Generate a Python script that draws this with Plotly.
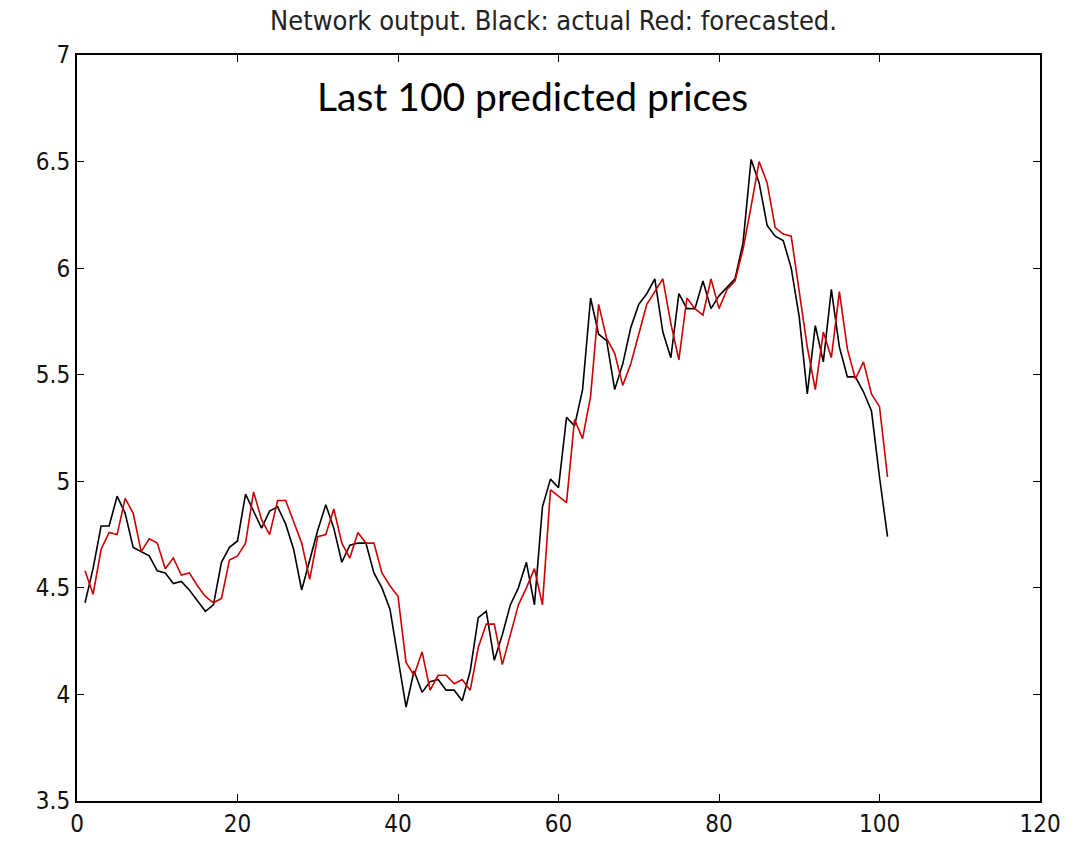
import plotly.graph_objects as go

# Sample index for the last 100 predictions
steps = list(range(1, 102))

# Actual prices (black)
actual = [
    4.43, 4.59, 4.79, 4.79, 4.93, 4.85, 4.69, 4.67, 4.65, 4.58,
    4.57, 4.52, 4.53, 4.49, 4.44, 4.39, 4.42, 4.62, 4.69, 4.72,
    4.94, 4.86, 4.78, 4.86, 4.88, 4.80, 4.68, 4.49, 4.63, 4.77,
    4.89, 4.78, 4.62, 4.70, 4.71, 4.71, 4.57, 4.50, 4.40, 4.18,
    3.94, 4.11, 4.01, 4.06, 4.07, 4.02, 4.02, 3.97, 4.11, 4.36,
    4.39, 4.16, 4.28, 4.42, 4.50, 4.62, 4.42, 4.88, 5.01, 4.97,
    5.30, 5.26, 5.43, 5.86, 5.69, 5.66, 5.43, 5.55, 5.72, 5.83,
    5.88, 5.95, 5.70, 5.58, 5.88, 5.81, 5.81, 5.94, 5.81, 5.87,
    5.91, 5.95, 6.12, 6.51, 6.40, 6.20, 6.15, 6.13, 6.00, 5.77,
    5.41, 5.73, 5.56, 5.90, 5.63, 5.49, 5.49, 5.42, 5.33, 5.02,
    4.74,
]

# Network forecast (red)
forecast = [
    4.58, 4.47, 4.68, 4.76, 4.75, 4.92, 4.85, 4.67, 4.73, 4.71,
    4.59, 4.64, 4.56, 4.57, 4.51, 4.46, 4.43, 4.45, 4.63, 4.65,
    4.71, 4.95, 4.82, 4.75, 4.91, 4.91, 4.81, 4.71, 4.54, 4.74,
    4.75, 4.87, 4.71, 4.64, 4.76, 4.71, 4.71, 4.57, 4.51, 4.46,
    4.15, 4.09, 4.20, 4.02, 4.09, 4.09, 4.05, 4.07, 4.02, 4.22,
    4.33, 4.33, 4.14, 4.28, 4.42, 4.50, 4.59, 4.42, 4.96, 4.93,
    4.90, 5.29, 5.20, 5.40, 5.83, 5.67, 5.60, 5.45, 5.55, 5.69,
    5.83, 5.89, 5.95, 5.74, 5.57, 5.86, 5.81, 5.78, 5.95, 5.81,
    5.90, 5.94, 6.09, 6.29, 6.50, 6.40, 6.19, 6.16, 6.15, 5.89,
    5.63, 5.43, 5.70, 5.58, 5.89, 5.62, 5.48, 5.56, 5.41, 5.35,
    5.02,
]

x_ticks = [0, 20, 40, 60, 80, 100, 120]
y_ticks = [3.5, 4, 4.5, 5, 5.5, 6, 6.5, 7]

narrow = "DejaVu Sans Condensed, Liberation Sans Narrow, Arial Narrow, sans-serif"
tick_font = dict(family=narrow, size=24, color="#111111")

fig = go.Figure()
fig.add_trace(go.Scatter(x=steps, y=actual, mode="lines",
                         line=dict(color="black", width=1.6), showlegend=False))
fig.add_trace(go.Scatter(x=steps, y=forecast, mode="lines",
                         line=dict(color="#cc0000", width=1.6), showlegend=False))

axis_common = dict(
    showgrid=False, zeroline=False,
    showline=True, linecolor="black", linewidth=2, mirror="ticks",
    ticks="inside", ticklen=7, tickwidth=1.2, tickcolor="black",
    tickfont=tick_font,
)

fig.update_xaxes(range=[0, 120], tickvals=x_ticks,
                 ticktext=[str(v) for v in x_ticks], **axis_common)
fig.update_yaxes(range=[3.5, 7], tickvals=y_ticks,
                 ticktext=[f"{v:g}" for v in y_ticks], **axis_common)

fig.update_layout(
    width=1079, height=850,
    margin=dict(l=77, r=39, t=55, b=42),
    paper_bgcolor="white", plot_bgcolor="white",
    title=dict(text="Network output. Black: actual Red: forecasted.",
               x=0.513, xanchor="center", y=0.976, yanchor="middle",
               font=dict(family=narrow, size=27, color="#222222")),
    annotations=[dict(
        text="Last 100 predicted prices", xref="paper", yref="paper",
        x=0.4735, y=0.945, xanchor="center", yanchor="middle", showarrow=False,
        font=dict(family="Lato, Open Sans, Noto Sans, Arial", size=39, color="black"),
    )],
)

fig.write_html("out.html")
